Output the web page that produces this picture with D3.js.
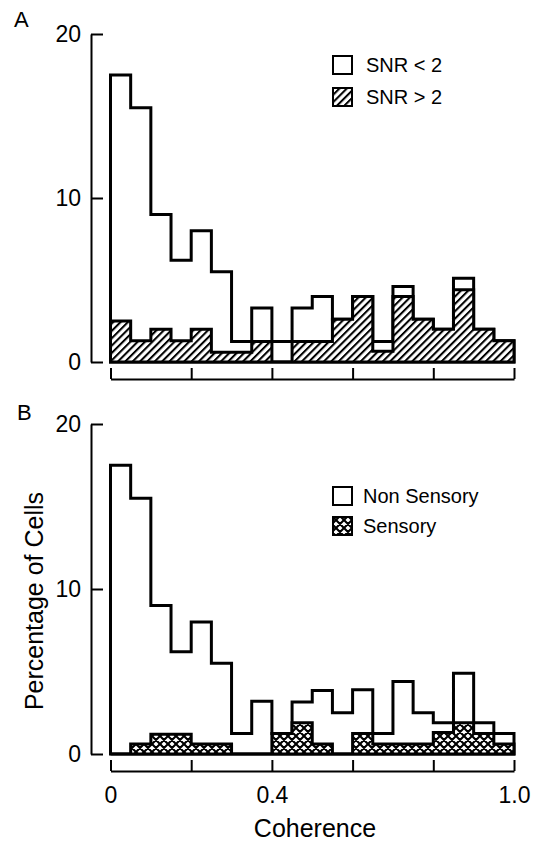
<!DOCTYPE html>
<html>
<head>
<meta charset="utf-8">
<script src="https://cdn.jsdelivr.net/npm/d3@7"></script>
<style>
  body { margin: 0; background: #fff; }
  svg { display: block; font-family: "Liberation Sans", Arial, Helvetica, sans-serif; }
</style>
</head>
<body>
<div id="chart"></div>
<script>
// Coherence bins (left edge of each 0.05 wide bin)
var binStarts = [0, 0.05, 0.1, 0.15, 0.2, 0.25, 0.3, 0.35, 0.4, 0.45,
                 0.5, 0.55, 0.6, 0.65, 0.7, 0.75, 0.8, 0.85, 0.9, 0.95];
var binEnd = 1.0;

// Panel A: percentage of cells, stacked (SNR > 2 at the bottom)
var snrHigh = [2.5, 1.3, 2.0, 1.3, 2.0, 0.6, 0.6, 1.25, 0, 1.25,
               1.25, 2.6, 4.0, 0.65, 4.0, 2.6, 2.0, 4.4, 2.0, 1.3];
var snrLow  = [15.0, 14.2, 7.0, 4.9, 6.0, 4.9, 0.65, 2.05, 1.25, 2.05,
               2.75, 0, 0, 0.6, 0.6, 0, 0, 0.7, 0, 0];

// Panel B: percentage of cells, stacked (Sensory at the bottom)
var sensory    = [0, 0.6, 1.2, 1.2, 0.6, 0.6, 0, 0, 1.25, 1.9,
                  0.6, 0, 1.25, 0.6, 0.6, 0.6, 1.3, 1.9, 1.25, 0.6];
var nonSensory = [17.5, 14.9, 7.8, 5.0, 7.4, 4.9, 1.25, 3.2, 0, 1.25,
                  3.25, 2.5, 2.65, 0.65, 3.8, 1.9, 0.6, 3.0, 0.65, 0.65];

var yTicks = [0, 10, 20];
var xTicks = [0, 0.2, 0.4, 0.6, 0.8, 1.0];
var xTickLabels = ["0", "", "0.4", "", "", "1.0"];

var width = 539, height = 842;

var svg = d3.select("#chart").append("svg")
    .attr("width", width)
    .attr("height", height);

// fill patterns
var defs = svg.append("defs");

// diagonal hatch "///"
defs.append("pattern")
    .attr("id", "hatch")
    .attr("patternUnits", "userSpaceOnUse")
    .attr("width", 5.2)
    .attr("height", 5.2)
    .attr("patternTransform", "rotate(45)")
    .call(function(p) {
        p.append("rect").attr("width", 5.2).attr("height", 5.2).attr("fill", "#fff");
        p.append("line")
            .attr("x1", 1).attr("y1", -1)
            .attr("x2", 1).attr("y2", 7)
            .attr("stroke", "#000")
            .attr("stroke-width", 2.1);
    });

// cross hatch, white diamonds on black
var cd = 8;
defs.append("pattern")
    .attr("id", "cross")
    .attr("patternUnits", "userSpaceOnUse")
    .attr("width", cd)
    .attr("height", cd)
    .call(function(p) {
        p.append("rect").attr("width", cd).attr("height", cd).attr("fill", "#fff");
        var path = "";
        [-cd, 0, cd].forEach(function(k) {
            path += "M" + (-cd + k) + "," + (-cd) + "L" + (2 * cd + k) + "," + (2 * cd);
        });
        [0, cd, 2 * cd].forEach(function(k) {
            path += "M" + (-cd) + "," + (k + cd) + "L" + (2 * cd) + "," + (k - 2 * cd);
        });
        p.append("path")
            .attr("d", path)
            .attr("stroke", "#000")
            .attr("stroke-width", 2.1);
    });

var x = d3.scaleLinear().domain([0, 1]).range([110.5, 514]);

function stepPoints(vals) {
    var pts = binStarts.map(function(b, i) { return [b, vals[i]]; });
    pts.push([binEnd, vals[vals.length - 1]]);
    return pts;
}

function drawPanel(p) {
    var y = d3.scaleLinear().domain([0, 20]).range([p.bottom, p.top]);
    var totals = p.lower.map(function(v, i) { return v + p.upper[i]; });

    var area = d3.area()
        .curve(d3.curveStepAfter)
        .x(function(d) { return x(d[0]); })
        .y0(y(0))
        .y1(function(d) { return y(d[1]); });

    // whole histogram outline (white part)
    svg.append("path")
        .datum(stepPoints(totals))
        .attr("d", area)
        .attr("fill", "#fff")
        .attr("stroke", "#000")
        .attr("stroke-width", 3);

    // patterned lower part
    svg.append("path")
        .datum(stepPoints(p.lower))
        .attr("d", area)
        .attr("fill", "url(#" + p.pattern + ")")
        .attr("stroke", "#000")
        .attr("stroke-width", 3);

    // y axis, ticks point inward
    var yAx = svg.append("g")
        .attr("transform", "translate(91,0)")
        .call(d3.axisLeft(y).tickValues(yTicks).tickSize(-12).tickSizeOuter(0).tickPadding(10));
    yAx.selectAll("path, line").attr("stroke", "#000").attr("stroke-width", 2);
    yAx.selectAll("text").attr("font-size", 23).attr("fill", "#000").attr("font-family", null);

    // x axis bracket below the bars
    var xAx = svg.append("g")
        .attr("transform", "translate(0," + p.axisY + ")")
        .call(d3.axisBottom(x).tickValues(xTicks).tickSize(-11).tickSizeOuter(0).tickPadding(16)
            .tickFormat(function(d, i) { return p.showLabels ? xTickLabels[i] : ""; }));
    xAx.selectAll("path, line").attr("stroke", "#000").attr("stroke-width", 2);
    xAx.selectAll("text").attr("font-size", 23).attr("fill", "#000").attr("font-family", null);

    // panel letter
    svg.append("text")
        .attr("x", p.letterX)
        .attr("y", p.letterY)
        .attr("font-size", 22)
        .text(p.letter);

    // legend
    var fills = ["#fff", "url(#" + p.pattern + ")"];
    p.legend.forEach(function(label, i) {
        svg.append("rect")
            .attr("x", 333)
            .attr("y", p.legendY + i * p.legendGap)
            .attr("width", 19)
            .attr("height", 18)
            .attr("fill", fills[i])
            .attr("stroke", "#000")
            .attr("stroke-width", 2);
        svg.append("text")
            .attr("x", p.legendTextX)
            .attr("y", p.legendY + i * p.legendGap + 16)
            .attr("font-size", 20)
            .text(label);
    });
}

drawPanel({
    letter: "A", letterX: 14, letterY: 27,
    top: 34, bottom: 362, axisY: 379,
    upper: snrLow, lower: snrHigh, pattern: "hatch",
    showLabels: false,
    legend: ["SNR < 2", "SNR > 2"], legendY: 56, legendGap: 32, legendTextX: 366
});

drawPanel({
    letter: "B", letterX: 17, letterY: 420,
    top: 424, bottom: 754, axisY: 771,
    upper: nonSensory, lower: sensory, pattern: "cross",
    showLabels: true,
    legend: ["Non Sensory", "Sensory"], legendY: 487, legendGap: 30, legendTextX: 363
});

// axis titles
svg.append("text")
    .attr("transform", "translate(43,601) rotate(-90)")
    .attr("text-anchor", "middle")
    .attr("font-size", 25)
    .text("Percentage of Cells");

svg.append("text")
    .attr("x", 315)
    .attr("y", 837)
    .attr("text-anchor", "middle")
    .attr("font-size", 25)
    .text("Coherence");
</script>
</body>
</html>
